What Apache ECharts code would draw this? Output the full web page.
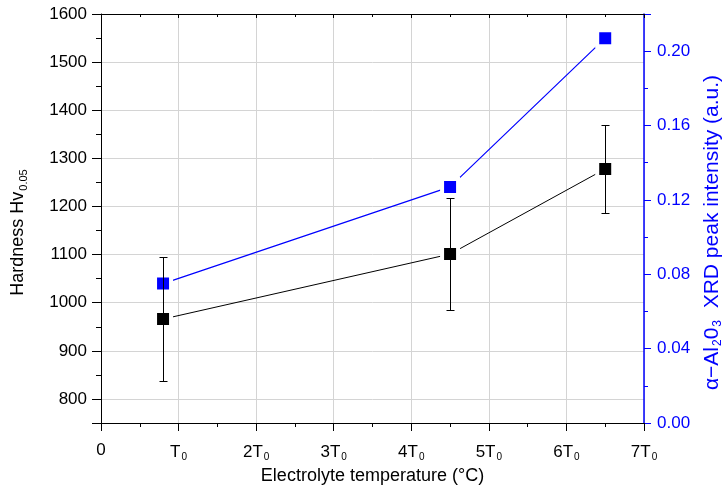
<!DOCTYPE html>
<html><head><meta charset="utf-8">
<script src="https://cdn.jsdelivr.net/npm/echarts@6/dist/echarts.min.js"></script>
<style>html,body{margin:0;padding:0;background:#fff}#c{width:727px;height:485px}</style>
</head><body><div id="c"></div>
<script>
// Data (x in units of T0)
const temperatureT0 = [0.8, 4.5, 6.5];
const hardness = [966, 1101, 1278];
const hardnessErr = [128, 117, 91];
const xrdIntensity = [0.075, 0.127, 0.207];
const xTickLabels = ['0', 'T{s|0}', '2T{s|0}', '3T{s|0}', '4T{s|0}', '5T{s|0}', '6T{s|0}', '7T{s|0}'];

const FONT = 'Liberation Sans, Arial, sans-serif';
const BLUE = '#0000ff';
const GRID = '#d4d4d4';
const FS = 17;

const hardnessData = temperatureT0.map((x, i) => [x, hardness[i]]);
const xrdData = temperatureT0.map((x, i) => [x, xrdIntensity[i]]);
const errData = temperatureT0.map((x, i) => [x, hardness[i] - hardnessErr[i], hardness[i] + hardnessErr[i]]);

const chart = echarts.init(document.getElementById('c'));
chart.setOption({
  animation: false,
  backgroundColor: '#fff',
  grid: { left: 101, right: 83, top: 14, bottom: 62, outerBoundsMode: 'none' },
  xAxis: [
    {
      type: 'value', position: 'bottom', min: 0, max: 7, interval: 1,
      axisLine: { show: true, onZero: false, lineStyle: { color: '#000', width: 1 } },
      axisTick: { show: true, inside: false, length: 8, lineStyle: { color: '#000' } },
      minorTick: { show: true, splitNumber: 2, length: 4, lineStyle: { color: '#000' } },
      splitLine: { show: true, lineStyle: { color: GRID, width: 1 } },
      axisLabel: {
        margin: 19, color: '#000', fontSize: FS, fontFamily: FONT,
        formatter: v => xTickLabels[Math.round(v)] ?? '',
        rich: { s: { fontSize: 10, fontFamily: FONT, color: '#000', padding: [10, 0, 0, 1] } }
      },
      name: 'Electrolyte temperature (°C)', nameLocation: 'middle', nameGap: 42,
      nameTextStyle: { color: '#000', fontSize: 18, fontFamily: FONT }
    },
    {
      type: 'value', position: 'top', min: 0, max: 7, interval: 1,
      axisLine: { show: true, onZero: false, lineStyle: { color: '#000', width: 1 } },
      axisTick: { show: true, inside: true, length: 4, lineStyle: { color: '#000' } },
      minorTick: { show: true, splitNumber: 2, length: 3, lineStyle: { color: '#000' } },
      splitLine: { show: false }, axisLabel: { show: false }
    }
  ],
  yAxis: [
    {
      type: 'value', position: 'left', min: 750, max: 1600, minInterval: 100, maxInterval: 100,
      axisLine: { show: true, onZero: false, lineStyle: { color: '#000', width: 1 } },
      axisTick: { show: true, inside: false, length: 9, lineStyle: { color: '#000' } },
      minorTick: { show: true, splitNumber: 2, length: 5, lineStyle: { color: '#000' } },
      splitLine: { show: true, lineStyle: { color: GRID, width: 1 } },
      axisLabel: { showMinLabel: false, margin: 14, color: '#000', fontSize: FS, fontFamily: FONT,
        formatter: v => String(v) },
      name: 'Hardness Hv{s|0.05}', nameLocation: 'middle', nameGap: 72, nameRotate: 90,
      nameTextStyle: { color: '#000', fontSize: 18, fontFamily: FONT, padding: [0, 28, 0, 0],
        rich: { s: { fontSize: 11, fontFamily: FONT, color: '#000', padding: [10, 0, 0, 1] } } }
    },
    {
      type: 'value', position: 'right', min: 0, max: 0.22, interval: 0.04,
      axisLine: { show: true, onZero: false, lineStyle: { color: BLUE, width: 1.5 } },
      axisTick: { show: true, inside: false, length: 7, lineStyle: { color: BLUE } },
      minorTick: { show: true, splitNumber: 2, length: 4, lineStyle: { color: BLUE } },
      splitLine: { show: false },
      axisLabel: { showMaxLabel: false, margin: 13, color: BLUE, fontSize: FS, fontFamily: FONT,
        formatter: v => v.toFixed(2) },
      name: 'α−Al{s|2}0{s|3}  XRD peak intensity (a.u.)', nameLocation: 'middle', nameGap: 57, nameRotate: 90,
      nameTextStyle: { color: BLUE, fontSize: 21, fontFamily: FONT, padding: [0, 28, 0, 0],
        rich: { s: { fontSize: 12, fontFamily: FONT, color: BLUE, padding: [11, 0, 0, 1] } } }
    }
  ],
  series: [
    {
      type: 'line', xAxisIndex: 0, yAxisIndex: 0, data: hardnessData, z: 3,
      lineStyle: { color: '#000', width: 1 },
      symbol: 'rect', symbolSize: 16,
      itemStyle: { color: '#000', borderColor: '#fff', borderWidth: 4 },
      emphasis: { disabled: true }
    },
    {
      type: 'line', xAxisIndex: 0, yAxisIndex: 1, data: xrdData, z: 3,
      lineStyle: { color: BLUE, width: 1.2 },
      symbol: 'rect', symbolSize: 16,
      itemStyle: { color: BLUE, borderColor: '#fff', borderWidth: 4 },
      emphasis: { disabled: true }
    },
    {
      type: 'custom', xAxisIndex: 0, yAxisIndex: 0, data: errData, z: 4,
      encode: { x: 0, y: [1, 2] },
      renderItem: (params, api) => {
        const x = api.value(0), lo = api.value(1), hi = api.value(2);
        const top = api.coord([x, hi]), bot = api.coord([x, lo]);
        const cx = Math.round(top[0]) + 0.5, w = 4;
        const yt = Math.round(top[1]) + 0.5, yb = Math.round(bot[1]) + 0.5;
        const st = { stroke: '#000', lineWidth: 1 };
        return { type: 'group', children: [
          { type: 'line', shape: { x1: cx, y1: yt, x2: cx, y2: yb }, style: st },
          { type: 'line', shape: { x1: cx - w, y1: yt, x2: cx + w, y2: yt }, style: st },
          { type: 'line', shape: { x1: cx - w, y1: yb, x2: cx + w, y2: yb }, style: st }
        ] };
      }
    }
  ]
});
</script>
</body></html>
